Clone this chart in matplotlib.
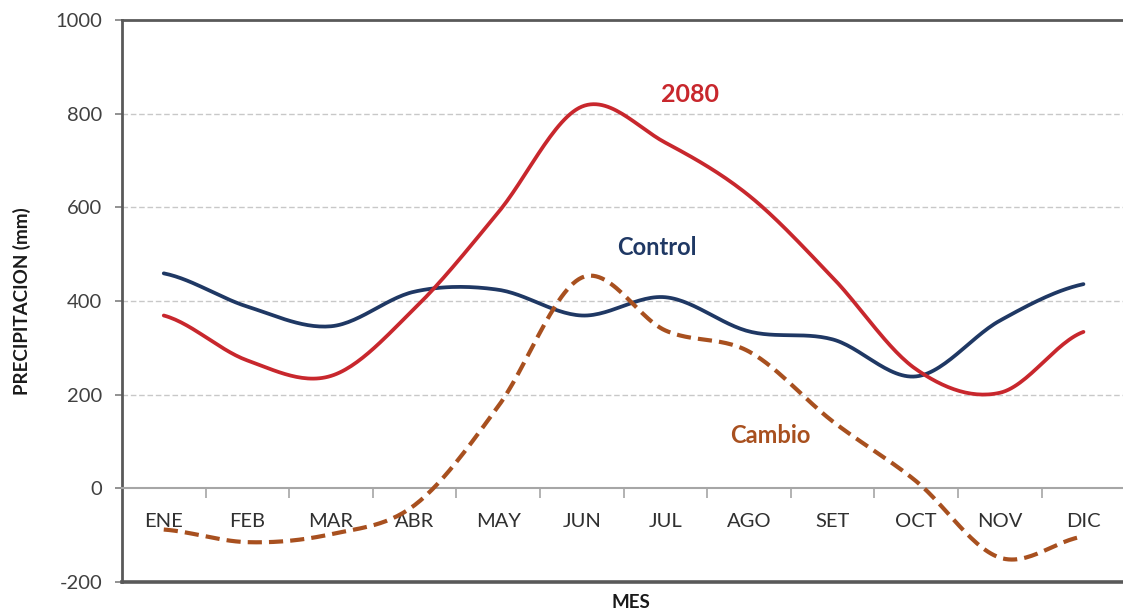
import numpy as np
import matplotlib
matplotlib.use("Agg")
import matplotlib.pyplot as plt

plt.rcParams['font.family'] = ['Lato', 'DejaVu Sans']
plt.rcParams['axes.unicode_minus'] = False

meses = ['ENE', 'FEB', 'MAR', 'ABR', 'MAY', 'JUN', 'JUL', 'AGO', 'SET', 'OCT', 'NOV', 'DIC']
control = [459, 388, 346, 420, 424, 369, 408, 335, 318, 239, 358, 436]
futuro_2080 = [369, 273, 240, 384, 589, 815, 738, 625, 450, 254, 204, 334]
cambio = [-88, -115, -98, -36, 175, 450, 337, 292, 143, 15, -148, -103]


def suavizar(x, y, n=30, tension=0.5):
    # curva tipo Catmull-Rom, como las lineas suavizadas de Excel
    x = np.asarray(x, float)
    y = np.asarray(y, float)
    px = np.concatenate([[2 * x[0] - x[1]], x, [2 * x[-1] - x[-2]]])
    py = np.concatenate([[y[0]], y, [y[-1]]])
    xs, ys = [], []
    t = np.linspace(0, 1, n)
    for i in range(1, len(px) - 2):
        p0, p1, p2, p3 = py[i - 1], py[i], py[i + 1], py[i + 2]
        q0, q1, q2, q3 = px[i - 1], px[i], px[i + 1], px[i + 2]
        m1y, m2y = tension * (p2 - p0), tension * (p3 - p1)
        m1x, m2x = tension * (q2 - q0), tension * (q3 - q1)
        h00 = 2 * t**3 - 3 * t**2 + 1
        h10 = t**3 - 2 * t**2 + t
        h01 = -2 * t**3 + 3 * t**2
        h11 = t**3 - t**2
        xs.append(h00 * q1 + h10 * m1x + h01 * q2 + h11 * m2x)
        ys.append(h00 * p1 + h10 * m1y + h01 * p2 + h11 * m2y)
    return np.concatenate(xs), np.concatenate(ys)


fig = plt.figure(figsize=(11.23, 6.15), dpi=100)
ax = fig.add_axes([0.1086, 0.0537, 0.8914 + 0.002, 0.9138])

x = np.arange(len(meses)) + 0.5

# lineas de guia horizontales
for v in [200, 400, 600, 800]:
    ax.axhline(v, color='#c8c8c8', lw=1, ls=(0, (4, 2)), zorder=0)

sx, sy = suavizar(x, control)
ax.plot(sx, sy, color='#1f3864', lw=2.7, solid_capstyle='round', zorder=3)
sx, sy = suavizar(x, futuro_2080)
ax.plot(sx, sy, color='#c8272d', lw=2.7, solid_capstyle='round', zorder=3)
sx, sy = suavizar(x, cambio)
ax.plot(sx, sy, color='#a8501f', lw=3, ls=(0, (3.4, 1.7)), zorder=3)

ax.set_xlim(0, 12)
ax.set_ylim(-200, 1000)
ax.set_yticks([-200, 0, 200, 400, 600, 800, 1000])
ax.tick_params(axis='y', length=5, width=1.2, color='#7f7f7f',
               labelsize=14.5, labelcolor='#404040', pad=9)

# eje de categorias sobre el cero
ax.spines['bottom'].set_position(('data', 0))
ax.spines['bottom'].set_color('#a6a6a6')
ax.spines['bottom'].set_linewidth(1.5)
ax.set_xticks(np.arange(1, 12))
ax.set_xticks(x, minor=True)
ax.set_xticklabels([])
ax.set_xticklabels(meses, minor=True)
ax.tick_params(axis='x', which='major', direction='out', length=7, width=1.2,
               color='#a6a6a6')
ax.tick_params(axis='x', which='minor', length=0, labelsize=14.5,
               labelcolor='#303030', pad=18)

for s in ['left', 'top', 'right']:
    ax.spines[s].set_color('#595959')
    ax.spines[s].set_linewidth(2)
ax.axhline(-200, color='#595959', lw=2.6, clip_on=False, zorder=4)

ax.set_ylabel('PRECIPITACION (mm)', fontsize=13.5, fontweight='bold',
              color='#1a1a1a', labelpad=18)
fig.text(0.562, 0.02, 'MES', ha='center', va='center', fontsize=13.5,
         fontweight='bold', color='#1a1a1a')

ax.text(x[6] + 0.3, 840, '2080', color='#c8272d', fontsize=18,
        fontweight='bold', ha='center', va='center')
ax.text(x[5] + 0.9, 515, 'Control', color='#1f3864', fontsize=17,
        fontweight='bold', ha='center', va='center')
ax.text(x[7] + 0.26, 112, 'Cambio', color='#a8501f', fontsize=17,
        fontweight='bold', ha='center', va='center')

fig.savefig('out.png', dpi=100)
